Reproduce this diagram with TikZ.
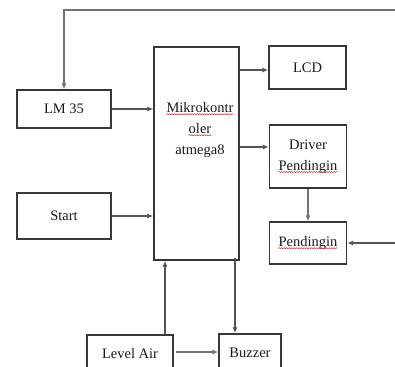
\documentclass[tikz,border=0pt]{standalone}
\usepackage{fontspec}
\setmainfont{Liberation Serif}
\usetikzlibrary{arrows.meta,decorations.pathmorphing}
\definecolor{Garis}{RGB}{55,55,55}
\definecolor{Teks}{RGB}{25,25,25}
\definecolor{Salah}{RGB}{200,60,60}
% red wavy spell-check underline under a word
\newcommand{\ejaan}[1]{\tikz[baseline=(w.base)]{\node[draw=none,fill=none,inner sep=0pt,
    minimum width=0pt,minimum height=0pt,text=Teks] (w) {#1};
  \draw[overlay,Salah,line width=0.5pt,decorate,decoration={snake,amplitude=0.6pt,segment length=2.5pt}]
    ([yshift=-1.8pt]w.base west) -- ([yshift=-1.8pt]w.base east);}}

\begin{document}
\begin{tikzpicture}[x=1pt,y=-1pt,
  blok/.style={draw=Garis,line width=1.4pt,fill=white,text=Teks,align=center,
    font=\fontsize{14.5}{21}\selectfont,inner sep=2pt},
  panah/.style={draw=Garis!85,line width=1.3pt,-{Latex[length=6pt,width=5pt]}}]
  \useasboundingbox[fill=white] (0,0) rectangle (395,366);
  % blocks
  \node[blok,minimum width=94pt,minimum height=38pt] (lm) at (64,109) {LM 35};
  \node[blok,minimum width=94pt,minimum height=46pt] (start) at (64,216) {Start};
  \node[blok,minimum width=85pt,minimum height=213pt] (mk) at (196.5,153.5) {};
  \node[text=Teks,align=center,font=\fontsize{14.5}{21}\selectfont] (mktxt) at (200,130)
    {\ejaan{Mikrokontr}\\ \ejaan{oler}\\ atmega8};
  \node[blok,minimum width=77pt,minimum height=43pt] (lcd) at (307.5,67.5) {LCD};
  \node[blok,minimum width=77pt,minimum height=63pt] (drv) at (308,156.5) {Driver\\ \ejaan{Pendingin}};
  \node[blok,minimum width=77pt,minimum height=42pt] (pend) at (308,243) {\ejaan{Pendingin}};
  \node[blok,minimum width=86pt,minimum height=38pt] (air) at (130,354) {Level Air};
  \node[blok,minimum width=62pt,minimum height=38pt] (bz) at (250,353) {Buzzer};
  % free ends at the right edge
  \coordinate (umpan) at (396,10);
  \coordinate (masuk) at (396,243);
  % connectors
  \draw[panah,draw=Garis!70] (umpan) -- (umpan -| lm.north) -- (lm.north);
  \draw[panah] (lm.east) -- (lm.east -| mk.west);
  \draw[panah] (start.east) -- (start.east -| mk.west);
  \draw[panah] (mk.east |- 0,70) -- (lcd.west |- 0,70);
  \draw[panah] (mk.east |- 0,147) -- (drv.west |- 0,147);
  \draw[panah,draw=Garis!70] (drv.south) -- (pend.north);
  \draw[panah] (masuk) -- (pend.east);
  \draw[panah] (air.north -| 165,0) -- (mk.south -| 165,0);
  \draw[panah] ([yshift=3pt]mk.south -| 235,0) -- (bz.north -| 235,0);
  \draw[panah,draw=Garis!70] ([xshift=2pt]air.east |- 0,352) -- (bz.west |- 0,352);
\end{tikzpicture}
\end{document}
